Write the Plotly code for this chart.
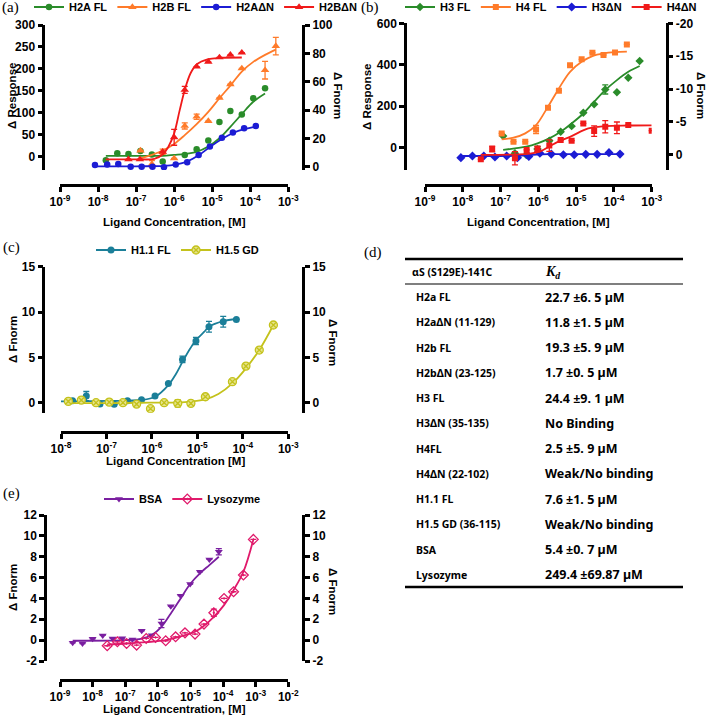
import plotly.graph_objects as go

W, H = 709, 720
FONT = "Liberation Sans, Arial, sans-serif"
SERIF = "Liberation Serif, Times New Roman, serif"
TABLE_FONT = "Noto Sans, sans-serif"

GREEN = "#2a8c2a"
ORANGE = "#ff7b2a"
BLUE = "#1c1cd4"
RED = "#f01a1a"
TEAL = "#1b7f99"
YELLOW = "#c4c21c"
PURPLE = "#7a1fa0"
CRIMSON = "#e01a6b"

# ---------------- panel (a): H2A / H2B ----------------
A_H2A_FL_X = [1.6e-8, 3.2e-8, 6.3e-8, 1.3e-7, 2.6e-7, 5.0e-7, 1.9e-6, 3.9e-6, 7.9e-6, 1.55e-5, 3.0e-5, 6.0e-5, 1.2e-4, 2.45e-4]
A_H2A_FL_Y = [-8, 8, 6, 13, 5, -11, 4, 17, 37, 79, 104, 96, 133, 156]
A_H2A_FL_FIT_X = [1.6e-8, 5e-8, 1.5e-7, 5e-7, 1e-6, 1.9e-6, 3.9e-6, 7.9e-6, 1.55e-5, 3.0e-5, 6.0e-5, 1.2e-4, 2.45e-4]
A_H2A_FL_FIT_Y = [2, 2, 2, 2, 4, 6, 11, 23, 42, 68, 97, 125, 144]

A_H2B_FL_X = [1.3e-7, 2.6e-7, 5.0e-7, 1.0e-6, 1.9e-6, 3.9e-6, 7.9e-6, 1.55e-5, 3.0e-5, 6.0e-5, 2.45e-4, 4.7e-4]
A_H2B_FL_Y = [14, -17, 11, -4, 70, 91, 81, 134, 165, 201, 197, 252]
A_H2B_FL_ERR = [None, 8, 6, None, 7, 6, None, None, None, None, 20, 20]
A_H2B_FL_FIT_X = [1.3e-7, 2.6e-7, 5e-7, 1e-6, 1.9e-6, 3.9e-6, 7.9e-6, 1.55e-5, 3e-5, 6e-5, 1.2e-4, 2.45e-4, 4.7e-4]
A_H2B_FL_FIT_Y = [-4, 4, 14, 29, 49, 74, 102, 133, 162, 194, 216, 232, 244]

A_H2A_DN_X = [8.3e-9, 1.74e-8, 3.4e-8, 7.2e-8, 1.4e-7, 2.7e-7, 5.4e-7, 1.1e-6, 2.2e-6, 4.4e-6, 8.7e-6, 1.8e-5, 3.5e-5, 6.9e-5, 1.4e-4]
A_H2A_DN_Y = [-19, -18, -17, -23, -23, -23, -24, -18, -13, 4, 23, 43, 55, 65, 70]
A_H2A_DN_FIT_X = [8.3e-9, 1e-7, 5.4e-7, 1.1e-6, 2.2e-6, 4.4e-6, 8.7e-6, 1.8e-5, 3.5e-5, 6.9e-5, 1.4e-4]
A_H2A_DN_FIT_Y = [-22, -22, -21, -18, -11, 3, 22, 40, 54, 63, 68]

A_H2B_DN_X = [6.3e-8, 1.26e-7, 5.0e-7, 1.0e-6, 1.9e-6, 3.9e-6, 7.9e-6, 1.55e-5, 3.0e-5, 6.0e-5]
A_H2B_DN_Y = [-6, -6, 11, 44, 152, 205, 216, 226, 232, 237]
A_H2B_DN_ERR = [None, None, None, 18, 8, None, None, None, None, None]
A_H2B_DN_FIT_X = [1.6e-8, 1e-7, 3e-7, 5e-7, 7e-7, 1e-6, 1.4e-6, 1.9e-6, 2.7e-6, 3.9e-6, 7.9e-6, 1.55e-5, 6e-5]
A_H2B_DN_FIT_Y = [-6, -6, -5, 5, 22, 53, 106, 152, 190, 210, 222, 225, 226]

# ---------------- panel (b): H3 / H4 ----------------
B_H3_FL_X = [1.17e-7, 2.4e-7, 4.8e-7, 9.5e-7, 1.95e-6, 3.9e-6, 7.6e-6, 1.55e-5, 3.0e-5, 5.9e-5, 1.2e-4, 2.4e-4, 4.8e-4]
B_H3_FL_Y = [56, -27, -35, -6, 34, 77, 104, 169, 209, 281, 267, 337, 418]
B_H3_FL_ERR = [None, None, None, 12, None, None, None, None, None, 22, None, None, None]
B_H3_FL_FIT_X = [1.17e-7, 2.4e-7, 4.8e-7, 9.5e-7, 1.95e-6, 3.9e-6, 7.6e-6, 1.55e-5, 3e-5, 5.9e-5, 1.2e-4, 2.4e-4, 4.8e-4]
B_H3_FL_FIT_Y = [-11, -3, 5, 21, 45, 77, 117, 165, 222, 278, 326, 366, 394]

B_H4_FL_X = [1.07e-7, 2.2e-7, 4.5e-7, 8.7e-7, 1.8e-6, 3.5e-6, 6.9e-6, 1.4e-5, 2.7e-5, 5.3e-5, 1.07e-4, 2.2e-4]
B_H4_FL_Y = [69, 29, 29, 88, 193, 275, 398, 426, 458, 447, 459, 498]
B_H4_FL_ERR = [None, None, None, 20, None, None, None, None, None, None, None, None]
B_H4_FL_FIT_X = [1.07e-7, 2.2e-7, 4.5e-7, 8.7e-7, 1.8e-6, 3.5e-6, 6.9e-6, 1.4e-5, 2.7e-5, 5.3e-5, 1.07e-4, 2.2e-4]
B_H4_FL_FIT_Y = [40, 48, 69, 109, 198, 286, 366, 414, 442, 455, 461, 463]

B_H3_DN_X = [8.9e-9, 1.8e-8, 3.6e-8, 7.1e-8, 1.45e-7, 2.8e-7, 5.6e-7, 1.1e-6, 2.2e-6, 4.6e-6, 8.9e-6, 1.8e-5, 3.6e-5, 7.4e-5, 1.45e-4]
B_H3_DN_Y = [-48, -40, -40, -45, -40, -48, -42, -27, -31, -34, -34, -32, -32, -24, -31]
B_H3_DN_FIT_X = [8.9e-9, 1e-7, 3e-7, 6e-7, 1.1e-6, 2.2e-6, 1.45e-4]
B_H3_DN_FIT_Y = [-40, -40, -39, -35, -32, -31, -31]

B_H4_DN_X = [3.0e-8, 6.0e-8, 2.4e-7, 4.9e-7, 9.5e-7, 1.95e-6, 3.9e-6, 7.6e-6, 1.55e-5, 3.0e-5, 5.9e-5, 1.2e-4, 2.4e-4, 1.0e-3]
B_H4_DN_Y = [-56, -6, -51, -11, -6, 10, 37, 34, 117, 80, 101, 96, 109, 82]
B_H4_DN_ERR = [None, 14, 32, None, 14, 28, None, None, None, 25, 30, 28, None, None]
B_H4_DN_FIT_X = [3e-8, 2.4e-7, 6e-7, 1.2e-6, 2.75e-6, 7.6e-6, 2.1e-5, 5.9e-5, 2.4e-4, 1e-3]
B_H4_DN_FIT_Y = [-35, -33, -29, -15, 21, 56, 93, 104, 107, 108]

# ---------------- panel (c): H1 ----------------
C_H11_X = [1.8e-8, 3.6e-8, 7.2e-8, 1.48e-7, 2.9e-7, 5.9e-7, 1.17e-6, 2.3e-6, 4.7e-6, 9.3e-6, 1.8e-5, 3.7e-5, 7.2e-5]
C_H11_Y = [0.22, 0.74, -0.15, -0.18, 0.22, 0.33, 0.74, 2.13, 4.78, 6.80, 8.38, 8.93, 9.19]
C_H11_ERR = [None, 0.5, None, None, None, None, None, None, 0.35, 0.4, 0.6, 0.6, None]
C_H11_FIT_X = [1e-8, 1e-7, 5.9e-7, 1.17e-6, 2.3e-6, 3.4e-6, 4.7e-6, 7e-6, 9.3e-6, 1.4e-5, 1.8e-5, 3.7e-5, 7.2e-5]
C_H11_FIT_Y = [0.15, 0.2, 0.3, 0.66, 1.95, 3.2, 4.5, 6.0, 6.9, 7.8, 8.38, 9.0, 9.23]

C_H15_X = [1.45e-8, 2.8e-8, 5.9e-8, 1.15e-7, 2.3e-7, 4.6e-7, 9.3e-7, 1.86e-6, 3.7e-6, 7.2e-6, 1.5e-5, 5.9e-5, 1.17e-4, 2.3e-4, 4.7e-4]
C_H15_Y = [0.15, 0.29, 0, 0.07, 0, -0.15, -0.66, 0, -0.07, -0.07, 0.66, 2.32, 4.04, 5.81, 8.57]
C_H15_ERR = [None, 0.3, None, None, None, None, None, None, 0.4, None, None, None, None, None, None]
C_H15_FIT_X = [1.45e-8, 1e-7, 1e-6, 3.7e-6, 7.2e-6, 1.5e-5, 2.9e-5, 5.9e-5, 1.17e-4, 2.3e-4, 4.7e-4]
C_H15_FIT_Y = [-0.05, -0.05, 0, 0.02, 0.12, 0.37, 0.96, 2.13, 3.79, 5.81, 8.57]

# ---------------- panel (e): controls ----------------
E_BSA_X = [2.45e-9, 4.9e-9, 1e-8, 2.04e-8, 4.1e-8, 8.1e-8, 1.66e-7, 3.2e-7, 6.5e-7, 1.29e-6, 2.5e-6, 5.0e-6, 9.8e-6, 1.95e-5, 3.8e-5, 7.4e-5]
E_BSA_Y = [-0.26, -0.32, 0.13, 0.45, 0.16, 0.19, 0.06, 0.90, 0.48, 1.6, 3.26, 4.26, 5.38, 6.56, 7.74, 8.48]
E_BSA_ERR = [None, None, None, None, None, None, None, None, None, 0.4, None, None, None, None, None, 0.3]
E_BSA_FIT_X = [2.45e-9, 1e-7, 3.2e-7, 6.5e-7, 1.29e-6, 2.5e-6, 5e-6, 9.8e-6, 1.95e-5, 3.8e-5, 7.4e-5]
E_BSA_FIT_Y = [-0.06, 0, 0.15, 0.5, 1.28, 2.56, 4.0, 5.38, 6.4, 7.2, 8.0]

E_LYS_X = [2.8e-8, 5.75e-8, 1.1e-7, 2.24e-7, 4.4e-7, 8.5e-7, 1.74e-6, 3.5e-6, 6.8e-6, 1.38e-5, 2.6e-5, 5.2e-5, 1.07e-4, 2.1e-4, 4.2e-4, 8.5e-4]
E_LYS_Y = [-0.54, -0.16, -0.32, -0.48, 0.16, 0.26, -0.06, 0.32, 0.70, 0.58, 1.54, 2.62, 4.0, 4.64, 6.24, 9.66]
E_LYS_ERR = [None, None, None, None, None, None, None, None, None, None, None, 0.35, None, None, None, None]
E_LYS_FIT_X = [2.8e-8, 1.1e-7, 4.4e-7, 1.74e-6, 6.8e-6, 1.38e-5, 2.6e-5, 5.2e-5, 1.07e-4, 2.1e-4, 4.2e-4, 8.5e-4]
E_LYS_FIT_Y = [-0.42, -0.32, -0.19, 0, 0.48, 0.8, 1.38, 2.24, 3.36, 4.8, 6.56, 9.66]

# ---------------- axis ticks ----------------
X_EXP_AB = [-9, -8, -7, -6, -5, -4, -3]
X_EXP_C = [-8, -7, -6, -5, -4, -3]
X_EXP_E = [-9, -8, -7, -6, -5, -4, -3, -2]
A_LEFT_TICKS = [0, 50, 100, 150, 200, 250, 300]
A_RIGHT_TICKS = [0, 20, 40, 60, 80, 100]
B_LEFT_TICKS = [0, 200, 400, 600]
B_RIGHT_TICKS = [-20, -15, -10, -5, 0]
C_TICKS = [0, 5, 10, 15]
E_TICKS = [-2, 0, 2, 4, 6, 8, 10, 12]

# ---------------- table (d) ----------------
TABLE_HEADER = ["αS (S129E)-141C", "<b><i>K</i><sub><i>d</i></sub></b>"]
TABLE_PROTEINS = ["H2a FL", "H2aΔN (11-129)", "H2b FL", "H2bΔN (23-125)", "H3 FL", "H3ΔN (35-135)",
                  "H4FL", "H4ΔN (22-102)", "H1.1 FL", "H1.5 GD (36-115)", "BSA", "Lysozyme"]
TABLE_KD = ["22.7 ±6. 5 µM", "11.8 ±1. 5 µM", "19.3 ±5. 9 µM", "1.7 ±0. 5 µM", "24.4 ±9. 1 µM", "No Binding",
            "2.5 ±5. 9 µM", "Weak/No binding", "7.6 ±1. 5 µM", "Weak/No binding", "5.4 ±0. 7 µM", "249.4 ±69.87 µM"]


def px(x):
    return x / W


def py(y):
    return 1 - y / H


fig = go.Figure()


def add_series(name, legend, xs, ys, fx, fy, color, marker, xa, ya, err=None):
    fig.add_trace(go.Scatter(x=fx, y=fy, mode="lines", line=dict(color=color, width=1.8, shape="spline"),
                             xaxis=xa, yaxis=ya, showlegend=False, hoverinfo="skip"))
    fig.add_trace(go.Scatter(x=xs, y=ys, mode="markers", marker=marker,
                             error_y=dict(type="data", array=err, color=color, thickness=1.3, width=3,
                                          visible=err is not None),
                             xaxis=xa, yaxis=ya, showlegend=False))
    fig.add_trace(go.Scatter(x=[None], y=[None], mode="lines+markers", name=name,
                             line=dict(color=color, width=2), marker=marker,
                             xaxis=xa, yaxis=ya, legend=legend))


add_series("H2A FL", "legend", A_H2A_FL_X, A_H2A_FL_Y, A_H2A_FL_FIT_X, A_H2A_FL_FIT_Y, GREEN,
           dict(symbol="circle", size=6.5, color=GREEN), "x", "y")
add_series("H2B FL", "legend", A_H2B_FL_X, A_H2B_FL_Y, A_H2B_FL_FIT_X, A_H2B_FL_FIT_Y, ORANGE,
           dict(symbol="triangle-up", size=7.5, color=ORANGE), "x", "y", A_H2B_FL_ERR)
add_series("H2AΔN", "legend", A_H2A_DN_X, A_H2A_DN_Y, A_H2A_DN_FIT_X, A_H2A_DN_FIT_Y, BLUE,
           dict(symbol="circle", size=6.5, color=BLUE), "x", "y")
add_series("H2BΔN", "legend", A_H2B_DN_X, A_H2B_DN_Y, A_H2B_DN_FIT_X, A_H2B_DN_FIT_Y, RED,
           dict(symbol="triangle-up", size=7.5, color=RED), "x", "y", A_H2B_DN_ERR)

add_series("H3 FL", "legend2", B_H3_FL_X, B_H3_FL_Y, B_H3_FL_FIT_X, B_H3_FL_FIT_Y, GREEN,
           dict(symbol="diamond", size=6.5, color=GREEN), "x2", "y3", B_H3_FL_ERR)
add_series("H4 FL", "legend2", B_H4_FL_X, B_H4_FL_Y, B_H4_FL_FIT_X, B_H4_FL_FIT_Y, ORANGE,
           dict(symbol="square", size=6, color=ORANGE), "x2", "y3", B_H4_FL_ERR)
add_series("H3ΔN", "legend2", B_H3_DN_X, B_H3_DN_Y, B_H3_DN_FIT_X, B_H3_DN_FIT_Y, BLUE,
           dict(symbol="diamond", size=7, color=BLUE), "x2", "y3")
add_series("H4ΔN", "legend2", B_H4_DN_X, B_H4_DN_Y, B_H4_DN_FIT_X, B_H4_DN_FIT_Y, RED,
           dict(symbol="square", size=6, color=RED), "x2", "y3", B_H4_DN_ERR)

add_series("H1.1 FL", "legend3", C_H11_X, C_H11_Y, C_H11_FIT_X, C_H11_FIT_Y, TEAL,
           dict(symbol="circle", size=7, color=TEAL), "x3", "y5", C_H11_ERR)
add_series("H1.5 GD", "legend3", C_H15_X, C_H15_Y, C_H15_FIT_X, C_H15_FIT_Y, YELLOW,
           dict(symbol="circle-x", size=8, color="#e6e48a", line=dict(color=YELLOW, width=1.3)), "x3", "y5", C_H15_ERR)

add_series("BSA", "legend4", E_BSA_X, E_BSA_Y, E_BSA_FIT_X, E_BSA_FIT_Y, PURPLE,
           dict(symbol="triangle-down", size=7, color=PURPLE), "x4", "y7", E_BSA_ERR)
add_series("Lysozyme", "legend4", E_LYS_X, E_LYS_Y, E_LYS_FIT_X, E_LYS_FIT_Y, CRIMSON,
           dict(symbol="diamond-open-dot", size=7.5, color=CRIMSON, line=dict(color=CRIMSON, width=1.3)),
           "x4", "y7", E_LYS_ERR)

# empty traces so the right-hand axes are drawn
for xa, ya in [("x", "y2"), ("x2", "y4"), ("x3", "y6"), ("x4", "y8")]:
    fig.add_trace(go.Scatter(x=[None], y=[None], xaxis=xa, yaxis=ya, showlegend=False))

AXIS = dict(showline=True, linecolor="black", linewidth=2.5, ticks="outside", ticklen=5, tickwidth=2.5,
            tickcolor="black", showgrid=False, zeroline=False,
            tickfont=dict(family=FONT, size=12, color="black", weight="bold"))


def x_axis(left, right, y, exps):
    return dict(domain=[px(left), px(right)], anchor="free", position=py(y), type="log",
                range=[exps[0], exps[-1]], tickvals=[10.0 ** e for e in exps],
                ticktext=[f"10<sup>{e}</sup>" for e in exps], **AXIS)


def y_axis(top, bottom, x, rng, ticks, side="left", overlaying=None):
    d = dict(domain=[py(bottom), py(top)], anchor="free", position=px(x), range=rng,
             tickvals=ticks, ticktext=[str(t) for t in ticks], side=side, **AXIS)
    if overlaying:
        d["overlaying"] = overlaying
    return d


def legend_at(x, y):
    return dict(orientation="h", x=px(x), y=py(y), xanchor="left", yanchor="middle",
                font=dict(family=FONT, size=11, color="black", weight="bold"),
                bgcolor="rgba(0,0,0,0)", itemwidth=30, tracegroupgap=0)


annotations = []


def text(s, x, y, size=11.5, angle=0, family=FONT, xanchor="center", bold=True):
    annotations.append(dict(text=s, x=px(x), y=py(y), xref="paper", yref="paper", showarrow=False,
                            textangle=angle, xanchor=xanchor, yanchor="middle",
                            font=dict(family=family, size=size, color="black",
                                      weight="bold" if bold else "normal")))


# panel letters
for lab, x, y in [("(a)", 0, 8), ("(b)", 359, 8), ("(c)", 1, 247), ("(d)", 362, 253), ("(e)", 1, 493)]:
    text(lab, x, y, size=15, family=SERIF, xanchor="left", bold=False)

# axis titles
text("Δ Response", 12, 96, angle=-90)
text("Δ Fnorm", 338, 95, angle=90)
text("Ligand Concentration, [M]", 174, 222)
text("Δ Response", 367, 97, angle=-90)
text("Δ Fnorm", 701, 95, angle=90)
text("Ligand Concentration, [M]", 538, 222)
text("Δ Fnorm", 13, 340, angle=-90)
text("Δ Fnorm", 333, 342, angle=90)
text("Ligand Concentration [M]", 175, 461)
text("Δ Fnorm", 13, 588, angle=-90)
text("Δ Fnorm", 333, 591, angle=90)
text("Ligand Concentration, [M]", 174, 709)

# table (d)
text(TABLE_HEADER[0], 410, 272, size=10.5, family=TABLE_FONT, xanchor="left")
text(TABLE_HEADER[1], 543, 272, size=14, family=SERIF, xanchor="left", bold=False)
ROW0, ROW_STEP = 297, 25.27
for i, (p, k) in enumerate(zip(TABLE_PROTEINS, TABLE_KD)):
    text(p, 414, ROW0 + i * ROW_STEP, size=10.5, family=TABLE_FONT, xanchor="left")
    text(k, 543, ROW0 + i * ROW_STEP, size=12.5, family=TABLE_FONT, xanchor="left")

shapes = [
    dict(type="line", xref="paper", yref="paper", x0=px(405), x1=px(683), y0=py(259), y1=py(259),
         line=dict(color="black", width=2.5)),
    dict(type="line", xref="paper", yref="paper", x0=px(405), x1=px(683), y0=py(284), y1=py(284),
         line=dict(color="black", width=1.2)),
    dict(type="line", xref="paper", yref="paper", x0=px(405), x1=px(683), y0=py(587), y1=py(587),
         line=dict(color="black", width=2.5)),
]

fig.update_layout(
    width=W, height=H,
    margin=dict(l=0, r=0, t=0, b=0, autoexpand=False),
    paper_bgcolor="white", plot_bgcolor="rgba(0,0,0,0)",
    xaxis=x_axis(60, 288.3, 185, X_EXP_AB),
    yaxis=y_axis(25, 170, 43.3, [-30.4, 300], A_LEFT_TICKS),
    yaxis2=y_axis(25, 170, 303.3, [-2.35, 100], A_RIGHT_TICKS, side="right", overlaying="y"),
    xaxis2=x_axis(425, 651.7, 185, X_EXP_AB),
    yaxis3=y_axis(23.3, 170, 405, [-107.6, 600], B_LEFT_TICKS),
    yaxis4=y_axis(23.3, 170, 666.7, [2.3, -20], B_RIGHT_TICKS, side="right", overlaying="y3"),
    xaxis3=x_axis(61, 288.3, 432.3, X_EXP_C),
    yaxis5=y_axis(266.7, 412.7, 43.3, [-1.1, 15], C_TICKS),
    yaxis6=y_axis(266.7, 412.7, 303.3, [-1.1, 15], C_TICKS, side="right", overlaying="y5"),
    xaxis4=x_axis(60, 288.3, 680, X_EXP_E),
    yaxis7=y_axis(515, 661, 45, [-2, 12], E_TICKS),
    yaxis8=y_axis(515, 661, 303.3, [-2, 12], E_TICKS, side="right", overlaying="y7"),
    legend=legend_at(29, 7),
    legend2=legend_at(400, 7),
    legend3=legend_at(91, 250),
    legend4=legend_at(99, 499),
    annotations=annotations,
    shapes=shapes,
)

fig.write_html("out.html", config={"displayModeBar": False},
               post_script="document.body.style.margin = '0';")
